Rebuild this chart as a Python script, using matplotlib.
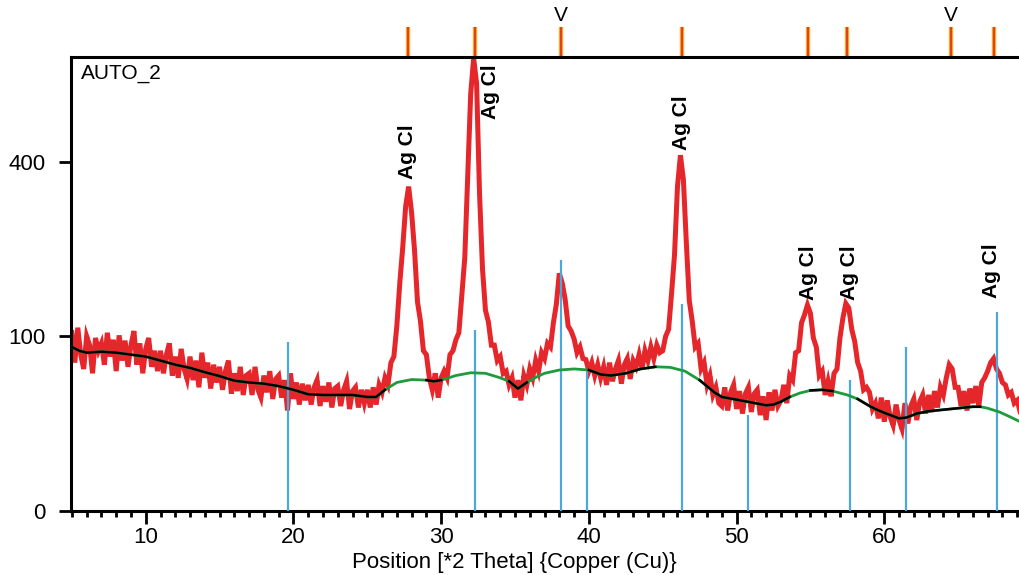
import numpy as np
import matplotlib
matplotlib.use("Agg")
import matplotlib.pyplot as plt
import matplotlib.transforms as mtransforms

plt.rcParams['font.family'] = ['Liberation Sans', 'DejaVu Sans']

# observed counts, 0.2 deg steps starting at 5.0 (one row = 2 deg)
observedCounts = [
    104, 72, 110, 80, 66, 100, 90, 62, 98, 84,
    92, 70, 104, 78, 96, 64, 101, 74, 95, 68,
    90, 106, 70, 92, 62, 86, 98, 68, 84, 64,
    84, 62, 80, 92, 60, 78, 58, 86, 66, 57,
    78, 56, 74, 50, 82, 58, 72, 49, 70, 54,
    68, 48, 64, 74, 45, 62, 47, 68, 44, 60,
    62, 44, 68, 48, 42, 60, 46, 64, 41, 57,
    60, 42, 56, 33, 62, 41, 54, 37, 53, 40,
    52, 37, 50, 56, 36, 51, 39, 54, 35, 49,
    51, 36, 48, 55, 34, 47, 50, 35, 48, 38,
    48, 35, 50, 37, 52, 46, 58, 52, 72, 78,
    112, 170, 228, 305, 345, 292, 222, 143, 118, 84,
    80, 58, 48, 62, 42, 58, 64, 58, 80, 84,
    96, 104, 152, 210, 365, 570, 672, 600, 330, 192,
    132, 117, 90, 90, 74, 78, 62, 64, 52, 58,
    42, 56, 40, 60, 52, 66, 58, 74, 64, 82,
    76, 92, 88, 116, 140, 185, 170, 146, 112, 106,
    97, 82, 88, 76, 75, 64, 72, 60, 70, 58,
    68, 52, 72, 55, 66, 74, 53, 70, 76, 57,
    74, 68, 80, 66, 84, 74, 88, 76, 90, 82,
    84, 100, 108, 155, 215, 345, 415, 360, 236, 145,
    118, 88, 92, 66, 72, 52, 60, 44, 50, 38,
    36, 50, 33, 46, 52, 34, 47, 31, 45, 50,
    32, 45, 48, 30, 43, 27, 46, 33, 48, 36,
    40, 52, 38, 60, 56, 82, 84, 116, 126, 139,
    128, 98, 88, 60, 64, 44, 55, 43, 62, 66,
    98, 122, 141, 135, 108, 94, 72, 64, 48, 50,
    46, 34, 38, 28, 42, 26, 40, 29, 24, 37,
    27, 22, 38, 25, 36, 41, 27, 39, 44, 31,
    44, 32, 47, 35, 50, 44, 58, 70, 66, 50,
    50, 36, 47, 33, 49, 38, 51, 36, 54, 58,
    64, 72, 76, 66, 62, 54, 52, 44, 46, 38, 40, 32,
]
twoTheta = np.round(5.0 + 0.2 * np.arange(len(observedCounts)), 1)

# background curve
bkgTheta = [5.0, 5.5, 6.0, 7.0, 8.0, 9.0, 10.0, 11.0, 12.0, 13.0, 14.0, 15.0,
            16.0, 17.0, 18.0, 19.0, 20.0, 21.0, 22.0, 23.0, 24.0, 25.0, 25.6,
            26.2, 27.0, 28.0, 29.0, 29.5, 30.0, 31.0, 32.0, 33.0, 34.0, 34.6,
            35.2, 35.8, 36.5, 37.0, 38.0, 39.0, 40.0, 40.8, 41.5, 42.5, 43.5,
            44.5, 45.5, 46.5, 47.5, 48.5, 49.0, 50.0, 51.0, 52.0, 52.5, 53.0,
            53.6, 54.3, 55.0, 55.8, 56.5, 57.5, 58.2, 59.0, 59.5, 60.0, 61.0,
            61.5, 62.2, 63.0, 64.0, 65.0, 66.0, 66.5, 67.0, 67.8, 68.5, 69.2]
bkgCounts = [88, 84, 82, 83, 82, 80, 78, 74, 70, 67, 63, 59.5,
             55.5, 54, 53, 51, 48, 44.5, 44, 44, 44, 42.5, 42.5,
             48, 54, 56.5, 56, 55, 56, 60, 62.5, 62, 58, 55,
             49, 54, 59, 62, 65, 66, 65, 61, 60, 62, 66,
             68, 67.5, 64, 56, 46, 42.5, 40.5, 38.5, 36.5, 37, 39,
             42.5, 45.5, 47.5, 48, 47, 44, 41, 36, 33.5, 31.5, 28,
             28.5, 31, 32.5, 33.5, 34.5, 35.5, 35.5, 34.5, 32, 29, 26]
# ranges where the fitted profile lies on the background
profileRanges = [(5.0, 26.2), (29.0, 30.0), (34.6, 35.8), (40.0, 44.5),
                 (47.5, 53.6), (55.0, 56.5), (58.2, 66.5)]

# reference pattern sticks
refTheta = [19.63, 32.30, 38.13, 39.88, 46.31, 50.78, 57.68, 61.47, 67.64]
refCounts = [94, 107, 206, 65, 140, 30, 56, 88, 130]

# marked peak positions (top of frame)
markTheta = [27.77, 32.30, 38.10, 46.29, 54.86, 57.46, 64.50, 67.43]
vTheta = [38.10, 64.50]

# phase labels: position, anchor count, vertical alignment
labelTheta = [27.72, 33.31, 46.24, 54.84, 57.68, 67.29]
labelCounts = [362, 655, 427, 146, 146, 149]
labelAlign = ['bottom', 'top', 'bottom', 'bottom', 'bottom', 'bottom']


def sqrtFwd(v):
    return np.sqrt(np.clip(v, 0, None))


def sqrtInv(v):
    return np.square(v)


fig = plt.figure(figsize=(10.2, 5.75), dpi=100)
ax = fig.add_axes([0.0696, 0.1118, 0.9304, 0.7885])
ax.set_yscale('function', functions=(sqrtFwd, sqrtInv))

ax.plot(twoTheta, observedCounts, color='#e5262b', lw=3.6, zorder=2,
        solid_joinstyle='miter')
ax.vlines(refTheta, 0, refCounts, color='#4aa8dc', lw=1.6, zorder=3)
ax.plot(bkgTheta, bkgCounts, color='#1f9a3c', lw=2.0, zorder=4)

bt = np.array(bkgTheta)
bc = np.array(bkgCounts)
for lo, hi in profileRanges:
    m = (bt >= lo) & (bt <= hi)
    ax.plot(bt[m], bc[m], color='black', lw=1.8, zorder=5)

for t, c, va in zip(labelTheta, labelCounts, labelAlign):
    ax.text(t, c, 'Ag Cl', rotation=90, ha='center', va=va,
            fontsize=15, fontweight='bold', zorder=6)

trans = mtransforms.blended_transform_factory(ax.transData, ax.transAxes)
ax.vlines(markTheta, 1.0, 1.067, transform=trans, color='#f5b52a', lw=3.2,
          clip_on=False, zorder=1)
ax.vlines(markTheta, 1.0, 1.067, transform=trans, color='#e4401c', lw=1.6,
          clip_on=False, zorder=1)
for t in vTheta:
    ax.text(t, 1.092, 'V', transform=trans, ha='center', va='center',
            fontsize=15)

ax.text(0.011, 0.985, 'AUTO_2', transform=ax.transAxes, ha='left', va='top',
        fontsize=15)

ax.set_xlim(4.94, 69.19)
ax.set_ylim(0, 675)
ax.set_yticks([0, 100, 400])
ax.set_xticks(np.arange(10, 70, 10))
ax.set_xticks(np.arange(5, 70, 1), minor=True)
ax.tick_params(axis='x', which='major', direction='out', length=9, width=2,
               labelsize=16, pad=3)
ax.tick_params(axis='x', which='minor', direction='out', length=4, width=2)
ax.tick_params(axis='y', which='major', direction='out', length=9, width=2,
               labelsize=16, pad=9)
ax.tick_params(axis='y', which='minor', left=False)
ax.set_xlabel('Position [*2 Theta] {Copper (Cu)}', fontsize=16)
ax.xaxis.set_label_coords(0.4668, -0.092)

for s in ['left', 'bottom', 'top']:
    ax.spines[s].set_linewidth(2.2)
ax.spines['right'].set_visible(False)

fig.savefig('out.png', dpi=100)
